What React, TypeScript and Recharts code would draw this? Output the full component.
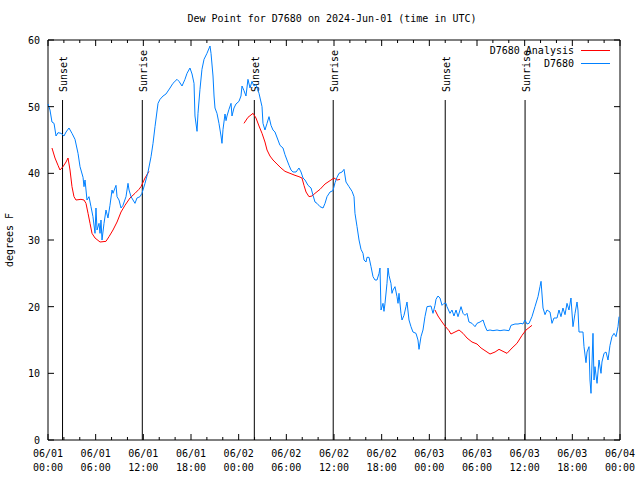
import React from "react";
import {
  LineChart,
  Line,
  XAxis,
  YAxis,
  ReferenceLine,
  ReferenceArea,
  Legend,
} from "recharts";

// hours since 06/01 00:00 UTC and dew point (°F) for station D7680
const obsHours = [
  0.0, 0.25, 0.5, 0.76, 1.01, 1.26, 1.64, 2.01, 2.27, 2.64, 3.02, 3.4, 3.78, 4.03, 4.41, 4.53, 4.66, 4.91,
  5.16, 5.41, 5.66, 5.92, 6.04, 6.17, 6.42, 6.55, 6.67, 6.8, 7.05, 7.3, 7.55, 7.8, 8.06, 8.18, 8.56, 8.69,
  8.94, 9.19, 9.44, 9.82, 10.07, 10.2, 10.45, 10.7, 10.95, 11.2, 11.58, 11.83, 12.21, 12.59, 12.97, 13.22,
  13.47, 13.85, 14.1, 14.48, 14.85, 15.36, 15.73, 16.24, 16.49, 16.87, 17.24, 17.5, 17.87, 18.13, 18.38,
  18.5, 18.76, 18.88, 19.13, 19.38, 19.64, 20.01, 20.39, 20.52, 20.77, 20.9, 21.02, 21.27, 21.52, 21.78,
  21.9, 22.03, 22.28, 22.41, 22.53, 22.78, 23.04, 23.16, 23.41, 23.66, 24.04, 24.29, 24.42, 24.67, 24.92,
  25.17, 25.43, 25.68, 25.93, 26.18, 26.56, 26.94, 27.06, 27.31, 27.57, 27.82, 28.07, 28.32, 28.57, 28.95,
  29.2, 29.58, 29.83, 30.08, 30.34, 30.59, 30.84, 31.22, 31.59, 31.85, 32.1, 32.35, 32.73, 33.11, 33.36,
  33.61, 33.86, 34.24, 34.62, 34.87, 35.12, 35.5, 35.87, 36.13, 36.38, 36.63, 37.01, 37.26, 37.51, 37.89,
  38.27, 38.52, 38.64, 38.9, 39.15, 39.4, 39.65, 39.78, 40.03, 40.15, 40.41, 40.66, 40.91, 41.16, 41.41,
  41.67, 41.79, 41.92, 42.17, 42.29, 42.42, 42.67, 42.8, 42.92, 43.17, 43.3, 43.43, 43.68, 43.93, 44.06,
  44.18, 44.43, 44.56, 44.81, 45.06, 45.19, 45.44, 45.69, 45.94, 46.32, 46.57, 46.7, 46.95, 47.2, 47.45,
  47.71, 48.21, 48.46, 48.71, 48.84, 49.09, 49.34, 49.6, 49.85, 50.1, 50.22, 50.6, 50.85, 51.1, 51.36,
  51.61, 51.99, 52.24, 52.49, 52.74, 52.99, 53.37, 53.75, 54.0, 54.38, 54.76, 55.01, 55.26, 55.64, 56.01,
  56.52, 56.9, 57.4, 58.03, 58.28, 58.78, 59.16, 59.54, 59.79, 60.04, 60.29, 60.55, 60.92, 61.3, 61.68,
  61.93, 62.06, 62.31, 62.56, 62.81, 63.19, 63.44, 63.69, 64.07, 64.32, 64.57, 64.82, 65.08, 65.33, 65.58,
  65.83, 66.08, 66.34, 66.59, 66.71, 66.84, 67.34, 67.47, 67.72, 67.85, 68.1, 68.22, 68.35, 68.6, 68.73,
  68.85, 69.11, 69.36, 69.61, 69.73, 69.99, 70.24, 70.49, 70.74, 70.99, 71.25, 71.5, 71.75, 71.88,
];
const obsValues = [
  50.4, 49.5, 47.7, 47.5, 45.6, 46.1, 46.0, 45.6, 46.2, 46.8, 46.0, 45.1, 43.0, 41.0, 39.4, 38.0, 39.0, 36.0,
  36.5, 35.0, 33.5, 31.0, 34.8, 31.5, 32.5, 31.0, 33.0, 30.0, 32.5, 34.5, 33.3, 35.2, 37.5, 37.0, 38.2, 36.5,
  36.0, 34.8, 35.2, 36.5, 38.5, 37.5, 36.5, 36.0, 35.5, 36.3, 36.5, 37.0, 38.5, 40.2, 42.5, 44.5,
  47.0, 50.5, 51.1, 51.6, 51.9, 52.8, 53.5, 54.1, 53.8, 53.1, 54.1, 55.0, 55.8, 54.9, 53.5,
  48.6, 46.3, 49.0, 52.6, 55.6, 57.1, 58.0, 59.1, 58.0, 54.6, 51.6, 49.8, 49.0, 47.5, 45.6,
  44.5, 46.6, 48.9, 47.9, 48.6, 49.6, 50.5, 48.6, 49.8, 50.4, 50.8, 51.6, 53.1, 52.4, 51.6,
  54.1, 52.8, 53.8, 53.1, 53.3, 52.0, 50.0, 47.5, 46.5, 47.5, 48.5, 47.2, 46.5, 46.2, 45.0,
  44.2, 43.8, 42.8, 42.0, 41.2, 40.5, 40.2, 40.2, 40.8, 40.2, 39.3, 39.0, 38.2, 37.8, 36.7,
  35.7, 35.5, 35.0, 34.8, 35.5, 36.5, 37.2, 37.4, 38.6, 39.4, 40.0, 40.2, 40.6, 38.7, 38.0,
  37.3, 36.5, 34.0, 32.0, 30.0, 28.6, 28.0, 27.0, 26.7, 27.4, 27.4, 26.0, 24.5, 24.0, 24.0,
  25.0, 25.8, 19.5, 20.5, 19.3, 20.5, 23.5, 25.8, 24.7, 23.5, 22.0, 22.5, 23.0, 21.5, 20.5,
  22.0, 19.0, 18.0, 18.7, 20.0, 20.7, 18.0, 17.0, 16.2, 16.0, 15.0, 13.6, 15.5, 16.5, 18.5,
  20.0, 20.1, 19.0, 20.2, 21.1, 21.6, 21.3, 20.2, 20.5, 20.5, 20.0, 19.0, 19.5, 18.6, 19.5,
  18.5, 20.0, 19.0, 18.7, 19.0, 17.7, 17.5, 17.0, 17.5, 17.7, 18.0, 17.1, 16.4, 16.5, 16.4,
  16.5, 16.4, 16.5, 16.4, 17.2, 17.4, 17.4, 17.5, 17.4, 18.0, 17.4, 17.5, 18.5, 20.0, 21.5,
  23.0, 23.8, 19.8, 18.8, 19.5, 19.2, 17.5, 18.3, 18.3, 19.5, 18.5, 19.8, 18.8, 20.5, 19.5,
  21.3, 17.0, 19.0, 20.7, 19.5, 16.2, 16.2, 14.0, 11.6, 13.2, 14.0, 9.0, 7.0, 16.0, 9.0,
  11.0, 8.5, 12.0, 10.0, 11.7, 13.0, 13.2, 12.0, 14.2, 15.5, 16.0, 15.5, 17.0, 18.5,
];

// analysis only exists for the night periods; null breaks the line
const anaHours = [
  0.5, 0.88, 1.26, 1.51, 1.89, 2.27, 2.52, 2.77, 3.02, 3.27, 3.52, 4.15, 4.53, 4.78, 5.04, 5.29, 5.54, 5.92,
  6.55, 7.3, 7.68, 8.18, 8.69, 9.19, 9.69, 10.32, 10.95, 11.45, 11.71, 12.21, 12.71,
  18,
  24.67, 25.17, 25.81, 26.18, 26.56, 26.94, 27.31, 27.57, 27.94, 28.32, 28.82, 29.33, 29.83, 30.46, 31.09,
  31.59, 31.97, 32.22, 32.48, 32.85, 33.23, 33.61, 34.24, 34.87, 35.62, 36.0, 36.38, 36.76,
  42,
  48.71, 49.09, 49.6, 49.97, 50.47, 50.72, 51.23, 51.74, 52.24, 52.74, 53.37, 54.0, 54.51, 55.64, 56.27,
  56.77, 57.78, 58.41, 59.03, 59.67, 60.17, 60.92,
];
const anaValues = [
  43.8, 42.3, 41.2, 40.5, 41.0, 41.7, 42.3, 40.5, 38.0, 36.5, 36.0, 36.1, 36.0, 35.5, 34.0, 32.5, 31.0, 30.3,
  29.7, 29.8, 30.5, 31.5, 32.7, 34.2, 35.2, 36.3, 37.0, 37.6, 38.0, 39.3, 40.3,
  null,
  47.5, 48.4, 49.0, 48.3, 47.1, 46.0, 44.7, 43.5, 42.6, 42.0, 41.4, 40.8, 40.3, 40.0, 39.7,
  39.5, 39.3, 38.2, 37.2, 36.5, 36.6, 37.0, 37.6, 38.4, 39.0, 39.3, 39.0, 39.1,
  null,
  19.5, 18.6, 17.7, 17.1, 16.4, 15.9, 16.2, 16.5, 16.0, 15.3, 14.7, 14.4, 13.8, 12.9, 13.2,
  13.6, 13.0, 13.8, 14.5, 15.7, 16.5, 17.2,
];

const sunEvents = ["Sunset", "Sunrise", "Sunset", "Sunrise", "Sunset", "Sunrise"];
const sunHours = [1.83, 11.87, 25.97, 35.9, 50.0, 60.05];

const seriesNames = ["D7680 Analysis", "D7680"];
const xTicks = Array.from({ length: 37 }, (_, i) => i * 2);
const yTicks = [0, 10, 20, 30, 40, 50, 60];

const obsData = obsHours.map((h, i) => ({ h, v: obsValues[i] }));
const anaData = anaHours.map((h, i) => ({ h, v: anaValues[i] }));

const FONT = "'DejaVu Sans Mono', monospace";
const PLOT_W = 572;
const PLOT_H = 400;
const pad = (n: number) => String(n).padStart(2, "0");

// gnuplot style: ticks point inward, mirrored on top / right
const BottomTick = (props: any) => {
  const { x, y, payload } = props;
  const h = payload.value;
  const major = h % 6 === 0;
  const len = major ? 6 : 3;
  return (
    <g>
      <line x1={x} x2={x} y1={y} y2={y - len} stroke="#000" />
      <line x1={x} x2={x} y1={y - PLOT_H} y2={y - PLOT_H + len} stroke="#000" />
      {major && (
        <text x={x} y={y + 17} textAnchor="middle" fontFamily={FONT} fontSize={10} fill="#000">
          {`06/${pad(1 + Math.floor(h / 24))}`}
        </text>
      )}
      {major && (
        <text x={x} y={y + 31} textAnchor="middle" fontFamily={FONT} fontSize={10} fill="#000">
          {`${pad(h % 24)}:00`}
        </text>
      )}
    </g>
  );
};

const LeftTick = (props: any) => {
  const { x, y, payload } = props;
  return (
    <g>
      <line x1={x} x2={x + 6} y1={y} y2={y} stroke="#000" />
      <line x1={x + PLOT_W} x2={x + PLOT_W - 6} y1={y} y2={y} stroke="#000" />
      <text x={x - 8} y={y + 4} textAnchor="end" fontFamily={FONT} fontSize={10} fill="#000">
        {payload.value}
      </text>
    </g>
  );
};

const SunLabel = (text: string) => (props: any) => {
  const { viewBox } = props;
  const tx = viewBox.x + 4.5;
  const ty = viewBox.y - 8;
  return (
    <text
      x={tx}
      y={ty}
      transform={`rotate(-90 ${tx} ${ty})`}
      textAnchor="start"
      fontFamily={FONT}
      fontSize={10}
      fill="#000"
    >
      {text}
    </text>
  );
};

const LegendBox = (props: any) => {
  const items = [...(props.payload || [])].sort(
    (a: any, b: any) => seriesNames.indexOf(a.value) - seriesNames.indexOf(b.value)
  );
  return (
    <div style={{ fontFamily: FONT, fontSize: 10, lineHeight: "13px", color: "#000" }}>
      {items.map((it: any) => (
        <div key={it.value} style={{ display: "flex", justifyContent: "flex-end", alignItems: "center" }}>
          <span>{it.value}</span>
          <span
            style={{ display: "inline-block", width: 29, height: 1, background: it.color, marginLeft: 7 }}
          />
        </div>
      ))}
    </div>
  );
};

export default function App() {
  return (
    <div style={{ position: "absolute", left: 0, top: 0, width: 640, height: 480, background: "#fff" }}>
      <div
        style={{
          position: "absolute",
          top: 13,
          left: 0,
          width: 664,
          textAlign: "center",
          fontFamily: FONT,
          fontSize: 10,
          lineHeight: "12px",
          color: "#000",
        }}
      >
        Dew Point for D7680 on 2024-Jun-01 (time in UTC)
      </div>
      <LineChart width={640} height={480} margin={{ top: 40, right: 20, bottom: 0, left: 0 }}>
        <XAxis
          dataKey="h"
          type="number"
          domain={[0, 72]}
          ticks={xTicks}
          interval={0}
          height={40}
          axisLine={false}
          tickLine={false}
          tickSize={0}
          tickMargin={0}
          tick={<BottomTick />}
        />
        <YAxis
          type="number"
          domain={[0, 60]}
          ticks={yTicks}
          interval={0}
          width={48}
          axisLine={false}
          tickLine={false}
          tickSize={0}
          tickMargin={0}
          tick={<LeftTick />}
          label={{
            content: (p: any) => {
              const vb = p.viewBox;
              const tx = 13;
              const ty = vb.y + vb.height / 2;
              return (
                <text
                  x={tx}
                  y={ty}
                  transform={`rotate(-90 ${tx} ${ty})`}
                  textAnchor="middle"
                  fontFamily={FONT}
                  fontSize={10}
                  fill="#000"
                >
                  degrees F
                </text>
              );
            },
          }}
        />
        <ReferenceArea x1={0} x2={72} y1={0} y2={60} fill="none" stroke="#000" strokeWidth={1} />
        {sunHours.map((h, i) => (
          <ReferenceLine
            key={i}
            segment={[
              { x: h, y: 0 },
              { x: h, y: 51 },
            ]}
            stroke="#000"
            strokeWidth={1}
            label={{ content: SunLabel(sunEvents[i]) }}
          />
        ))}
        <Legend
          layout="vertical"
          verticalAlign="middle"
          align="center"
          wrapperStyle={{ top: 44, right: 30, left: "auto", width: "auto" }}
          content={<LegendBox />}
        />
        <Line
          data={anaData}
          dataKey="v"
          name={seriesNames[0]}
          stroke="#ff0000"
          strokeWidth={1}
          dot={false}
          type="linear"
          isAnimationActive={false}
        />
        <Line
          data={obsData}
          dataKey="v"
          name={seriesNames[1]}
          stroke="#0080ff"
          strokeWidth={1}
          dot={false}
          type="linear"
          isAnimationActive={false}
        />
      </LineChart>
    </div>
  );
}
